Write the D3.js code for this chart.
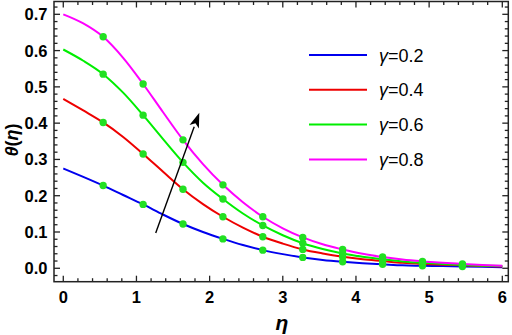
<!DOCTYPE html>
<html><head><meta charset="utf-8">
<script src="https://cdn.jsdelivr.net/npm/d3@7"></script>
<style>html,body{margin:0;padding:0;background:#fff}svg{display:block}</style>
</head><body><svg id="c" width="512" height="335"></svg>
<script>
const eta = [0,0.273,0.545,0.818,1.091,1.364,1.636,1.909,2.182,2.455,2.727,3.0,3.273,3.545,3.818,4.091,4.364,4.636,4.909,5.182,5.455,5.727,6.0];
const g02 = [0.275,0.252,0.228,0.202,0.176,0.148,0.122,0.100,0.081,0.064,0.050,0.039,0.030,0.023,0.018,0.014,0.011,0.008,0.007,0.006,0.005,0.004,0.003];
const g04 = [0.467,0.435,0.402,0.362,0.315,0.266,0.218,0.177,0.142,0.112,0.087,0.068,0.052,0.041,0.032,0.025,0.020,0.015,0.012,0.010,0.008,0.006,0.005];
const g06 = [0.603,0.572,0.535,0.484,0.422,0.356,0.292,0.236,0.191,0.151,0.118,0.091,0.069,0.053,0.041,0.032,0.025,0.019,0.015,0.012,0.009,0.007,0.006];
const g08 = [0.700,0.675,0.638,0.580,0.508,0.430,0.354,0.287,0.230,0.182,0.142,0.110,0.085,0.066,0.052,0.040,0.031,0.024,0.019,0.015,0.012,0.009,0.007];
const seriesNames = ["0.2","0.4","0.6","0.8"];
const seriesColors = ["#0000ee","#ee0000","#00ee00","#ff00ff"];
const markerIdx = [2,4,6,8,10,12,14,16,18,20];
const xTicks = [0,1,2,3,4,5,6];
const yTicks = [0.0,0.1,0.2,0.3,0.4,0.5,0.6,0.7];
const arrowFrom = [1.263,0.097], arrowTo = [1.859,0.429];

const series = [g02,g04,g06,g08];
const svg = d3.select("#c");
const L=54,R=508.3,T=1.5,B=281.7;
const x = d3.scaleLinear().domain([-0.12,6.082]).range([54.5,R]);
const y = d3.scaleLinear().domain([-0.037,0.7353]).range([B,T]);
const font = "'Liberation Sans', Arial, sans-serif";

// ticks
const tk = svg.append("g").attr("stroke","#222").attr("stroke-width",1.3);
d3.range(0,6.001,0.2).forEach(v=>{
  const major = Math.abs(v-Math.round(v))<1e-6;
  const len = major?6:3.5;
  tk.append("line").attr("x1",x(v)).attr("x2",x(v)).attr("y1",B).attr("y2",B-len);
  tk.append("line").attr("x1",x(v)).attr("x2",x(v)).attr("y1",T).attr("y2",T+len);
});
d3.range(-0.02,0.7301,0.02).forEach(v=>{
  const major = Math.abs(v*10-Math.round(v*10))<1e-6;
  const len = major?6:3.5;
  tk.append("line").attr("x1",L).attr("x2",L+len).attr("y1",y(v)).attr("y2",y(v));
  tk.append("line").attr("x1",R).attr("x2",R-len).attr("y1",y(v)).attr("y2",y(v));
});
svg.append("rect").attr("x",L).attr("y",T).attr("width",R-L).attr("height",B-T)
  .attr("fill","none").attr("stroke","#222").attr("stroke-width",1.5);

// tick labels
svg.append("g").selectAll("text").data(xTicks).join("text")
  .attr("x",d=>x(d)).attr("y",302.5).attr("text-anchor","middle")
  .attr("font-family",font).attr("font-weight","bold").attr("font-size",16.5).text(d=>d);
svg.append("g").selectAll("text").data(yTicks).join("text")
  .attr("x",47.5).attr("y",d=>y(d)+6).attr("text-anchor","end")
  .attr("font-family",font).attr("font-weight","bold").attr("font-size",16.5).text(d=>d.toFixed(1));

// axis titles
svg.append("text").attr("x",282).attr("y",330).attr("text-anchor","middle")
  .attr("font-family",font).attr("font-weight","bold").attr("font-style","italic").attr("font-size",21).text("η");
svg.append("text").attr("transform","translate(17.5,140) rotate(-90)").attr("text-anchor","middle")
  .attr("font-family",font).attr("font-weight","bold").attr("font-size",18)
  .html('<tspan font-style="italic">θ</tspan>(<tspan font-style="italic">η</tspan>)');

// lines
const line = d3.line().x((d,i)=>x(eta[i])).y(d=>y(d)).curve(d3.curveMonotoneX);
series.forEach((s,k)=>{
  svg.append("path").attr("d",line(s)).attr("fill","none").attr("stroke",seriesColors[k]).attr("stroke-width",2);
});
// markers
series.forEach(s=>{
  svg.append("g").selectAll("circle").data(markerIdx).join("circle")
    .attr("cx",i=>x(eta[i])).attr("cy",i=>y(s[i])).attr("r",3.7).attr("fill","#22e022");
});

// arrow
const ax1=x(arrowFrom[0]), ay1=y(arrowFrom[1]), ax2=x(arrowTo[0]), ay2=y(arrowTo[1]);
const ang=Math.atan2(ay2-ay1,ax2-ax1), hl=15, hw=5;
const bx=ax2-hl*Math.cos(ang), by=ay2-hl*Math.sin(ang);
svg.append("line").attr("x1",ax1).attr("y1",ay1).attr("x2",bx).attr("y2",by).attr("stroke","#000").attr("stroke-width",1.4);
svg.append("path").attr("fill","#000").attr("d",`M${ax2},${ay2}L${bx+hw*Math.sin(ang)},${by-hw*Math.cos(ang)}L${ax2-hl*0.75*Math.cos(ang)},${ay2-hl*0.75*Math.sin(ang)}L${bx-hw*Math.sin(ang)},${by+hw*Math.cos(ang)}Z`);

// legend
const lg = svg.append("g");
seriesNames.forEach((n,k)=>{
  const ly = 55 + k*34.8;
  lg.append("line").attr("x1",309).attr("x2",367).attr("y1",ly).attr("y2",ly).attr("stroke",seriesColors[k]).attr("stroke-width",2);
  lg.append("text").attr("x",379).attr("y",ly+6.5).attr("font-family",font).attr("font-size",18)
    .html(`<tspan font-style="italic">γ</tspan>=${n}`);
});
</script></body></html>
